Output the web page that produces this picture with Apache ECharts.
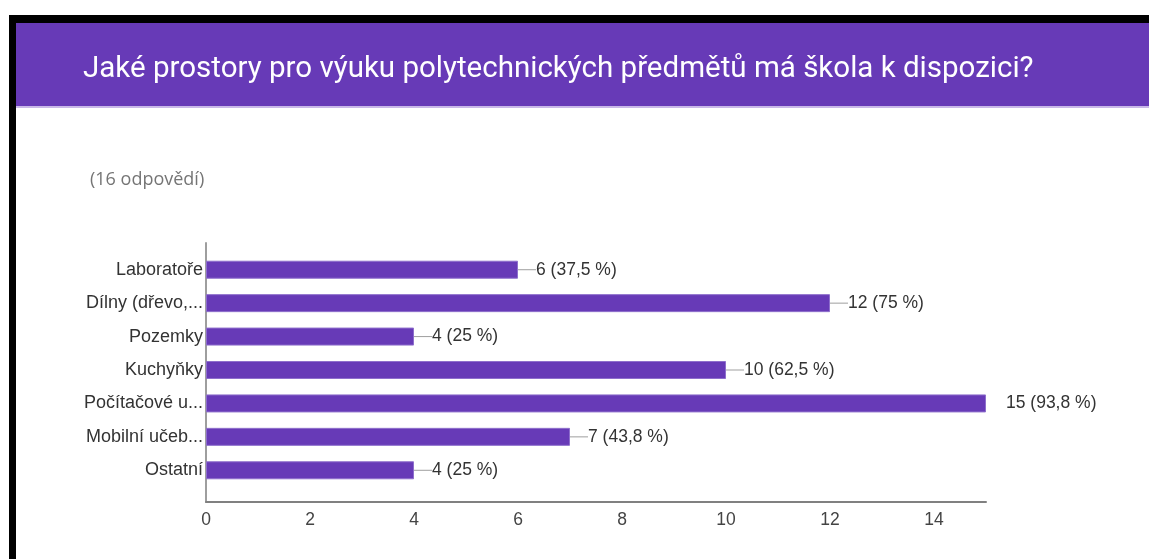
<!DOCTYPE html>
<html>
<head>
<meta charset="utf-8">
<script src="https://cdn.jsdelivr.net/npm/echarts@6/dist/echarts.min.js"></script>
<style>
  html, body { margin: 0; padding: 0; background: #fff; }
  #chart { width: 1149px; height: 559px; }
</style>
</head>
<body>
<div id="chart"></div>
<script>
// Survey: which spaces does the school have for polytechnic subjects
const titleText = 'Jaké prostory pro výuku polytechnických předmětů má škola k dispozici?';
const responsesText = '(16 odpovědí)';
const categories = ['Laboratoře', 'Dílny (dřevo,...', 'Pozemky', 'Kuchyňky', 'Počítačové u...', 'Mobilní učeb...', 'Ostatní'];
const counts = [6, 12, 4, 10, 15, 7, 4];
const shares = ['37,5 %', '75 %', '25 %', '62,5 %', '93,8 %', '43,8 %', '25 %'];
const xMax = 15;
const xStep = 2;

const purple = '#673ab7';
const labelFont = '"Liberation Sans", Arial, sans-serif';

const chart = echarts.init(document.getElementById('chart'), null, { renderer: 'canvas' });

chart.setOption({
  backgroundColor: '#ffffff',
  animation: false,
  graphic: [
    // frame and header band
    { type: 'rect', left: 9, top: 15, shape: { width: 1140, height: 8 }, style: { fill: '#000' } },
    { type: 'rect', left: 9, top: 15, shape: { width: 7, height: 544 }, style: { fill: '#000' } },
    { type: 'rect', left: 16, top: 23, shape: { width: 1133, height: 83 }, style: { fill: purple } },
    { type: 'rect', left: 16, top: 106, shape: { width: 1133, height: 2 }, style: { fill: '#c9b8e8' } }
  ],
  title: [
    {
      text: titleText,
      left: 78, top: 50,
      textStyle: { color: '#ffffff', fontFamily: 'Roboto, sans-serif', fontSize: 29.5, fontWeight: 'normal' }
    },
    {
      text: responsesText,
      left: 85, top: 166,
      textStyle: { color: '#757575', fontFamily: '"Open Sans", sans-serif', fontSize: 18, fontWeight: 'normal' }
    }
  ],
  grid: [
    { left: 206, right: 163, top: 253, bottom: 72 },
    { left: 206, right: 163, top: 243, bottom: 57 }
  ],
  xAxis: [
    { type: 'value', gridIndex: 0, min: 0, max: xMax, show: false },
    {
      type: 'value', gridIndex: 1, min: 0, max: xMax, interval: xStep,
      axisLine: { show: true, lineStyle: { color: '#808080', width: 2 } },
      axisTick: { show: false },
      splitLine: { show: false },
      axisLabel: { showMaxLabel: false, margin: 9, color: '#444', fontFamily: labelFont, fontSize: 17.5 }
    }
  ],
  yAxis: [
    {
      type: 'category', gridIndex: 0, inverse: true, data: categories,
      axisLine: { show: false }, axisTick: { show: false },
      axisLabel: { margin: 3, color: '#333', fontFamily: labelFont, fontSize: 18 }
    },
    {
      type: 'value', gridIndex: 1, min: 0, max: 1,
      axisLine: { show: true, lineStyle: { color: '#9e9e9e', width: 2 } },
      axisTick: { show: false }, axisLabel: { show: false }, splitLine: { show: false }
    }
  ],
  series: [
    {
      type: 'bar',
      xAxisIndex: 0, yAxisIndex: 0,
      barWidth: 18,
      itemStyle: { color: purple, borderColor: '#8e6fcc', borderWidth: 1 },
      data: counts.map((v, i) => {
        const atEnd = v >= xMax;
        return {
          value: v,
          label: {
            show: true,
            position: 'right',
            distance: atEnd ? 20 : 0,
            formatter: atEnd
              ? '{v|' + v + ' (' + shares[i] + ')}'
              : '{l| }{v|' + v + ' (' + shares[i] + ')}',
            rich: {
              l: { width: 18, height: 1, fontSize: 1, backgroundColor: '#9e9e9e' },
              v: { color: '#333', fontFamily: labelFont, fontSize: 17.5 }
            }
          }
        };
      })
    }
  ]
});
</script>
</body>
</html>
